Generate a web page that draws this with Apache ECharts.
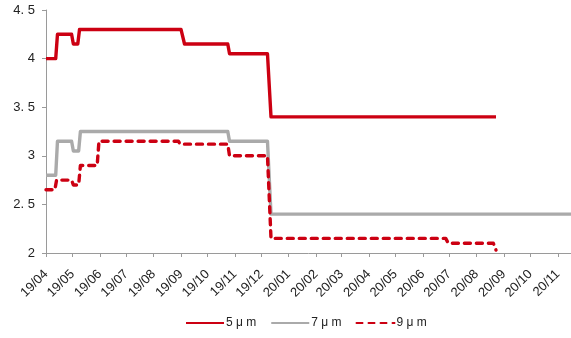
<!DOCTYPE html>
<html>
<head>
<meta charset="utf-8">
<script src="https://cdn.jsdelivr.net/npm/echarts@6/dist/echarts.min.js"></script>
<style>
html,body{margin:0;padding:0;background:#fff;}
#c{width:571px;height:338px;}
</style>
</head>
<body>
<div id="c"></div>
<script>
// Tick labels (year/month)
const monthLabels = ['19/04','19/05','19/06','19/07','19/08','19/09','19/10','19/11','19/12','20/01','20/02','20/03','20/04','20/05','20/06','20/07','20/08','20/09','20/10','20/11'];
const yTicks = [2, 2.5, 3, 3.5, 4, 4.5];
const seriesNames = ['5 μ m', '7 μ m', '9 μ m'];

// 5 μm
const s5Dates = ['2019-04-01','2019-04-12','2019-04-14','2019-04-30','2019-05-02','2019-05-07','2019-05-09','2019-09-01','2019-09-05','2019-10-24','2019-10-26','2019-12-08','2019-12-12','2020-08-23'];
const s5Vals  = [4.0,4.0,4.25,4.25,4.15,4.15,4.3,4.3,4.15,4.15,4.05,4.05,3.4,3.4];

// 7 μm
const s7Dates = ['2019-04-01','2019-04-12','2019-04-14','2019-04-30','2019-05-02','2019-05-08','2019-05-10','2019-10-24','2019-10-26','2019-12-08','2019-12-12','2020-11-16'];
const s7Vals  = [2.8,2.8,3.15,3.15,3.05,3.05,3.25,3.25,3.15,3.15,2.4,2.4];

// 9 μm
const s9Dates = ['2019-04-01','2019-04-11','2019-04-13','2019-04-30','2019-05-02','2019-05-08','2019-05-10','2019-05-29','2019-05-31','2019-08-29','2019-08-31','2019-10-24','2019-10-26','2019-12-08','2019-12-12','2020-06-27','2020-06-30','2020-08-20','2020-08-23'];
const s9Vals  = [2.65,2.65,2.75,2.75,2.7,2.7,2.9,2.9,3.15,3.15,3.12,3.12,3.0,3.0,2.15,2.15,2.1,2.1,2.03];

const xMin = '2019-04-01';
const xMax = '2020-11-16';

function ts(d){ return Date.parse(d + 'T00:00:00Z'); }
function pts(dates, vals){ return dates.map((d,i)=>[ts(d), vals[i]]); }
const tickValues = monthLabels.map(m => Date.UTC(2000 + parseInt(m.slice(0,2),10), parseInt(m.slice(3),10)-1, 1));
function fmtMonth(v){
  const d = new Date(v);
  const yy = String(d.getUTCFullYear()).slice(2);
  const mm = String(d.getUTCMonth()+1).padStart(2,'0');
  return yy + '/' + mm;
}

const FONT = '"Liberation Sans", Arial, sans-serif';
const RED = '#cc0012';
const GRAY = '#aaaaaa';
const LW = 3.4;

const chart = echarts.init(document.getElementById('c'), null, {renderer:'canvas'});
chart.setOption({
  animation: false,
  backgroundColor: '#fff',
  grid: {left: 46, right: 0, top: 10, bottom: 85, containLabel: false},
  legend: {
    left: 185, top: 317, padding: 0,
    itemWidth: 38, itemHeight: 12, itemGap: 14,
    itemStyle: {opacity: 0},
    textStyle: {fontFamily: FONT, fontSize: 12, color: '#222', padding: [0,0,0,-3]},
    data: seriesNames
  },
  xAxis: {
    type: 'value',
    min: ts(xMin), max: ts(xMax),
    axisLine: {show: true, lineStyle: {color: '#9a9a9a', width: 1}},
    axisTick: {show: true, length: 4, inside: false, customValues: tickValues, lineStyle: {color: '#9a9a9a'}},
    axisLabel: {
      customValues: tickValues,
      formatter: fmtMonth,
      rotate: 45,
      margin: 19,
      fontFamily: FONT, fontSize: 13, color: '#222'
    },
    splitLine: {show: false}
  },
  yAxis: {
    type: 'value',
    min: yTicks[0], max: yTicks[yTicks.length-1], interval: 0.5,
    axisLine: {show: true, lineStyle: {color: '#9a9a9a', width: 1}},
    axisTick: {show: true, length: 4, lineStyle: {color: '#9a9a9a'}},
    axisLabel: {
      margin: 11,
      fontFamily: FONT, fontSize: 13, color: '#222',
      formatter: v => String(v).replace('.', '. ')
    },
    splitLine: {show: false}
  },
  series: [
    {name: seriesNames[0], type: 'line', symbol: 'none', data: pts(s5Dates, s5Vals),
     lineStyle: {color: RED, width: LW, join: 'round'}, itemStyle: {color: RED}},
    {name: seriesNames[1], type: 'line', symbol: 'none', data: pts(s7Dates, s7Vals),
     lineStyle: {color: GRAY, width: LW, join: 'round'}, itemStyle: {color: GRAY}},
    {name: seriesNames[2], type: 'line', symbol: 'none', data: pts(s9Dates, s9Vals),
     lineStyle: {color: RED, width: LW, type: [6,6], cap: 'round', join: 'round'}, itemStyle: {color: RED}}
  ]
});
</script>
</body>
</html>
